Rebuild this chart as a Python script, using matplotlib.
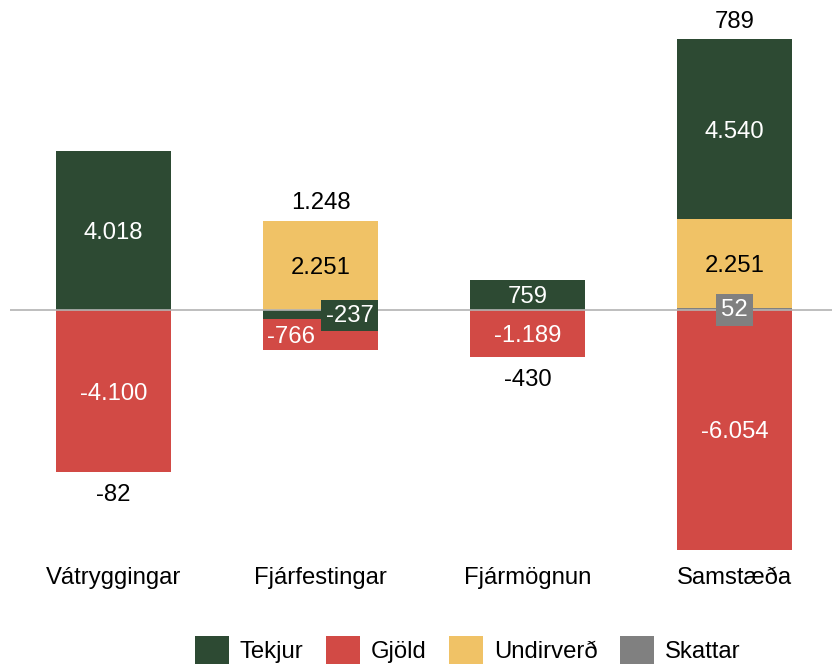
import matplotlib
matplotlib.use("Agg")
import matplotlib.pyplot as plt
from matplotlib.patches import Patch

plt.rcParams['font.family'] = ['Liberation Sans', 'DejaVu Sans']

categories = ["Vátryggingar", "Fjárfestingar", "Fjármögnun", "Samstæða"]
series_names = ["Tekjur", "Gjöld", "Undirverð", "Skattar"]
tekjur = [4018, -237, 759, 4540]
gjold = [-4100, -766, -1189, -6054]
undirverd = [0, 2251, 0, 2251]
skattar = [0, 0, 0, 52]
totals = [-82, 1248, -430, 789]

colors = {"Tekjur": "#2d4a33", "Gjöld": "#d24a45", "Undirverð": "#f0c266", "Skattar": "#808080"}
text_colors = {"Tekjur": "white", "Gjöld": "white", "Undirverð": "black", "Skattar": "white"}
values = {"Tekjur": tekjur, "Gjöld": gjold, "Undirverð": undirverd, "Skattar": skattar}
stack_order = ["Skattar", "Undirverð", "Tekjur", "Gjöld"]

W, H = 832, 664
fig = plt.figure(figsize=(W / 100, H / 100), dpi=100)
ax_top, ax_bot = 10, 560
ax = fig.add_axes([10 / W, 1 - ax_bot / H, 828 / W, (ax_bot - ax_top) / H])
scale = 25.27
zero_px = 310
ax.set_ylim(-(ax_bot - zero_px) * scale, (zero_px - ax_top) * scale)
ax.set_xlim(-0.5, len(categories) - 0.5)

def fmt(v):
    return f"{v:,}".replace(",", ".")

PT = 0.72  # points per pixel
# label offsets (pixels) for thin segments
special = {("Tekjur", 1): dict(dx=29, box=True), ("Gjöld", 1): dict(dx=-30, box=False),
           ("Skattar", 3): dict(dx=0, box=True)}

bw = 115 / 207
fs = 17.2
pos_base = [0.0] * len(categories)
neg_base = [0.0] * len(categories)
for name in stack_order:
    vals = values[name]
    for i, v in enumerate(vals):
        if v == 0:
            continue
        if v > 0:
            b = pos_base[i]
            pos_base[i] += v
        else:
            b = neg_base[i]
            neg_base[i] += v
        ax.bar(i, v, bottom=b, width=bw, color=colors[name], zorder=2, linewidth=0)
        sp = special.get((name, i), dict(dx=0, box=False))
        bbox = None
        dy = -2.5
        if sp["box"]:
            bbox = dict(boxstyle="square,pad=0.2", facecolor=colors[name], edgecolor="none")
            dy = -1
        ax.annotate(fmt(v), xy=(i, b + v / 2), xytext=(sp["dx"] * PT, dy * PT),
                    textcoords="offset points", ha="center", va="center",
                    color=text_colors[name], fontsize=fs, zorder=5, bbox=bbox,
                    annotation_clip=False)

for i, t in enumerate(totals):
    if t >= 0:
        ax.annotate(fmt(t), xy=(i, pos_base[i]), xytext=(0, 17.5 * PT), textcoords="offset points",
                    ha="center", va="center", fontsize=fs, color="black", annotation_clip=False)
    else:
        ax.annotate(fmt(t), xy=(i, neg_base[i]), xytext=(0, -23 * PT), textcoords="offset points",
                    ha="center", va="center", fontsize=fs, color="black", annotation_clip=False)

ax.axhline(0, color="#b3b3b3", linewidth=1.2, zorder=3)

ax.set_xticks(range(len(categories)))
ax.set_xticklabels(categories, fontsize=fs)
ax.tick_params(axis="x", length=0, pad=5)
ax.set_yticks([])
for s in ax.spines.values():
    s.set_visible(False)

handles = [Patch(facecolor=colors[n], edgecolor="none") for n in series_names]
fig.legend(handles, series_names, loc="center", bbox_to_anchor=(468 / W, 1 - 650 / H),
           ncol=4, frameon=False, fontsize=fs, handlelength=1.42, handleheight=1.42,
           handletextpad=0.45, columnspacing=0.95, borderpad=0, borderaxespad=0)

fig.savefig("out.png", dpi=100)
